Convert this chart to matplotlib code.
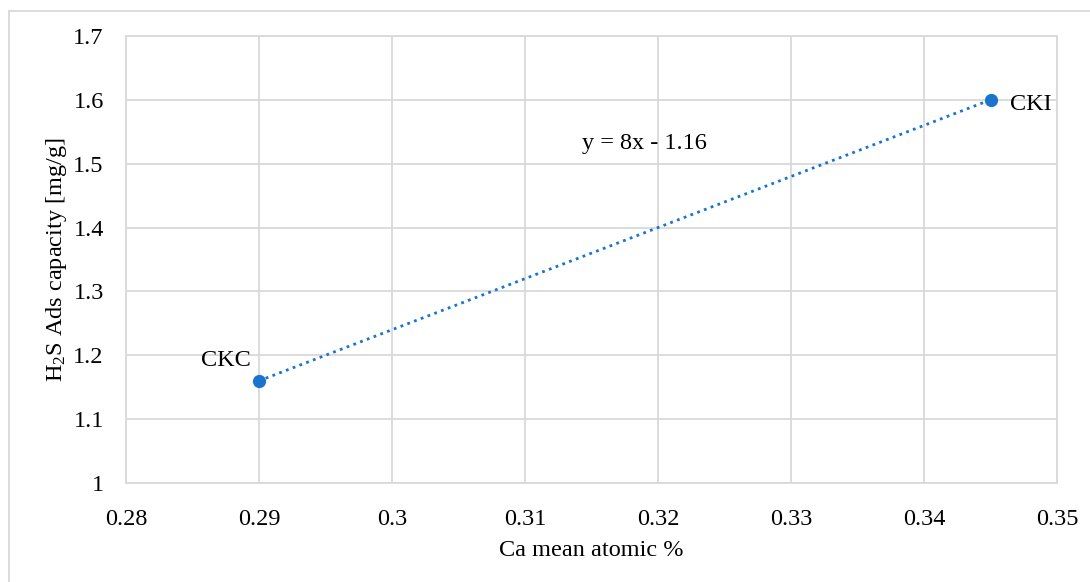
import matplotlib
matplotlib.use("Agg")
import matplotlib.pyplot as plt
from matplotlib.lines import Line2D

plt.rcParams['font.family'] = ['Liberation Serif', 'DejaVu Serif']
plt.rcParams['mathtext.fontset'] = 'custom'
plt.rcParams['mathtext.rm'] = 'Liberation Serif'
plt.rcParams['mathtext.it'] = 'Liberation Serif:italic'
plt.rcParams['mathtext.bf'] = 'Liberation Serif:bold'

# Data
labels = ["CKC", "CKI"]
ca_mean = [0.29, 0.345]
h2s_capacity = [1.16, 1.6]
x_ticks = [0.28, 0.29, 0.30, 0.31, 0.32, 0.33, 0.34, 0.35]
x_tick_labels = ["0.28", "0.29", "0.3", "0.31", "0.32", "0.33", "0.34", "0.35"]
y_ticks = [1.0, 1.1, 1.2, 1.3, 1.4, 1.5, 1.6, 1.7]
y_tick_labels = ["1", "1.1", "1.2", "1.3", "1.4", "1.5", "1.6", "1.7"]
equation = "y = 8x - 1.16"

W, H = 1090, 582
fs = 17.5
fig = plt.figure(figsize=(W / 100, H / 100), dpi=100)
ax = fig.add_axes([126 / W, 1 - 483 / H, (1057 - 126) / W, (483 - 36) / H])

blue = "#1874cd"
grid_c = "#d9d9d9"

ax.plot(ca_mean, h2s_capacity, linestyle=(0, (1, 1.6)), color=blue, linewidth=2.0, zorder=3)
ax.plot(ca_mean, h2s_capacity, linestyle="none", marker="o", markersize=8.5, color=blue, zorder=4)

ax.set_xlim(0.28, 0.35)
ax.set_ylim(1.0, 1.7)
ax.set_xticks(x_ticks)
ax.set_xticklabels(x_tick_labels)
ax.set_yticks(y_ticks)
ax.set_yticklabels(y_tick_labels)
ax.tick_params(axis='both', length=0, labelsize=fs, colors="#000000")
ax.tick_params(axis='x', pad=19)
ax.tick_params(axis='y', pad=16)
ax.grid(True, color=grid_c, linewidth=1.3)
ax.set_axisbelow(True)
for s in ax.spines.values():
    s.set_color(grid_c)
    s.set_linewidth(1.3)

ax.set_xlabel("Ca mean atomic %", fontsize=fs, labelpad=7)
ax.set_ylabel(r"H$_2$S Ads capacity [mg/g]", fontsize=fs, labelpad=3)

# point labels
ax.annotate(labels[0], (ca_mean[0], h2s_capacity[0]), xytext=(-6, 7),
            textcoords="offset points", ha="right", va="bottom", fontsize=fs)
ax.annotate(labels[1], (ca_mean[1], h2s_capacity[1]), xytext=(14, -3),
            textcoords="offset points", ha="left", va="center", fontsize=fs)

ax.text(0.3143, 1.531, equation, fontsize=fs, ha="left", va="center")

# outer frame
fig.add_artist(Line2D([9 / W, 1.0], [1 - 11 / H, 1 - 11 / H], color=grid_c, linewidth=1.3,
                      transform=fig.transFigure))
fig.add_artist(Line2D([9 / W, 9 / W], [0, 1 - 11 / H], color=grid_c, linewidth=1.3,
                      transform=fig.transFigure))

fig.savefig("out.png", dpi=100)
